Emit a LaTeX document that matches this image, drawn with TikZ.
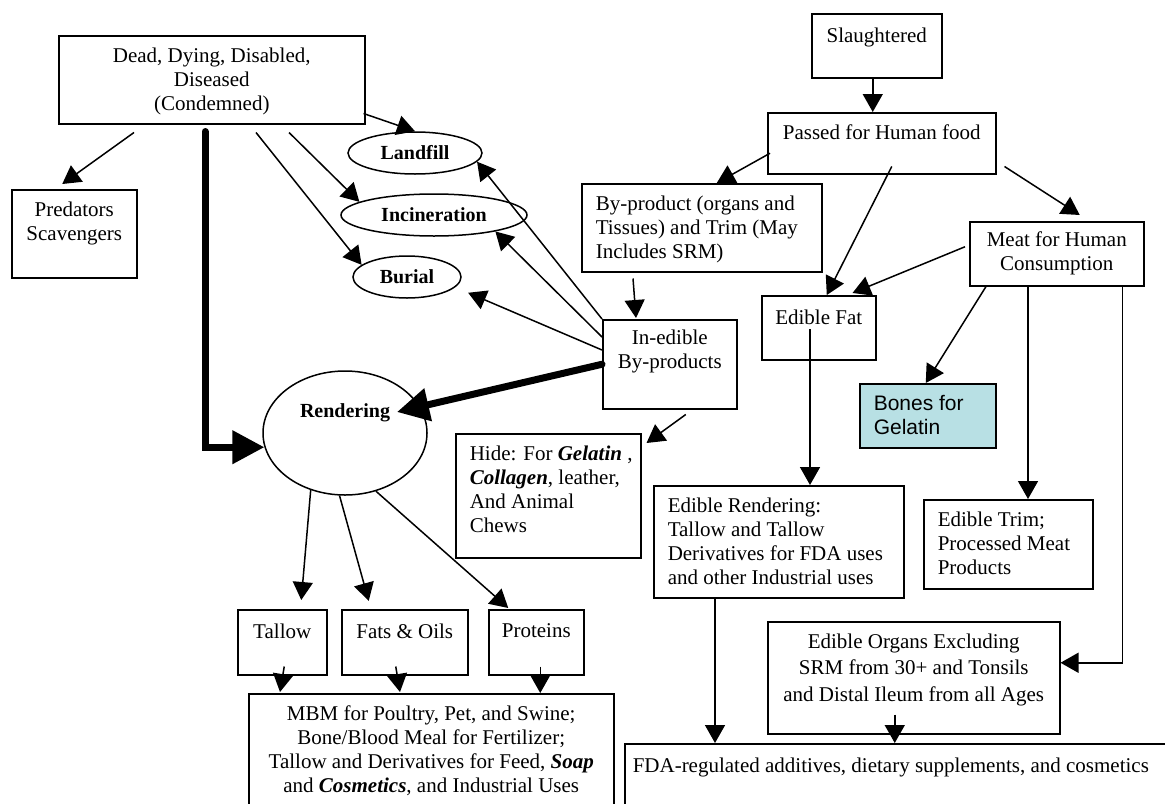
\documentclass[tikz,border=0pt]{standalone}
\usepackage{fontspec}
\setmainfont{Liberation Serif}
\newfontfamily\arial{Liberation Sans}
\usetikzlibrary{arrows.meta,shapes.geometric}
\newdimen\pxu \pxu=0.5pt
% box contents: width, height (px), alignment, text
\newcommand{\inbox}[4]{\parbox[c][#2\pxu][t]{#1\pxu}{\vspace*{6pt}#3#4\par}}
\newcommand{\lft}{\raggedright\leftskip=7pt\relax}
\newcommand{\bi}[1]{\textbf{\textit{#1}}}
\tikzset{
  box/.style={draw, line width=0.75pt, inner sep=0pt, anchor=north west},
  oval/.style={draw, ellipse, line width=0.75pt, inner sep=0pt, font=\bfseries},
  arr/.style={line width=0.75pt, -{Triangle[length=9pt,width=10pt]}},
  bigarr/.style={line width=3.5pt, line cap=round, -{Triangle[length=16pt,width=16pt]}},
}
\begin{document}
\begin{tikzpicture}[x=0.5pt, y=-0.5pt, font=\fontsize{10.5}{12}\selectfont]
\useasboundingbox (0,0) rectangle (1165,803);
% left: condemned animals
\node[box] (dead) at (58,35) {\inbox{306}{88}{\centering}{Dead, Dying, Disabled,\\ Diseased\\ (Condemned)}};
\node[box] (pred) at (11,189) {\inbox{125}{88}{\centering}{Predators\\ Scavengers}};
\node[oval, minimum width=67pt, minimum height=21pt] (landfill) at (415,153) {Landfill};
\node[oval, minimum width=93pt, minimum height=21pt] (incin) at (434,215) {Incineration};
\node[oval, minimum width=54pt, minimum height=21pt] (burial) at (407,277) {Burial};
\node[oval, minimum width=82pt, minimum height=62pt, text depth=22pt] (rend) at (345,433) {Rendering};
% right: slaughtered animals
\node[box] (slt) at (811,13) {\inbox{130}{64}{\centering\vspace{1pt}}{Slaughtered}};
\node[box] (pass) at (767,112) {\inbox{228}{61}{\centering}{Passed for Human food}};
\node[box] (byp) at (581,183) {\inbox{240}{88}{\lft}{By-product (organs and\\ Tissues) and Trim (May\\ Includes SRM)}};
\node[box] (meat) at (969,221) {\inbox{174}{64}{\centering\vspace{-1pt}}{Meat for Human\\ Consumption}};
\node[box] (fat) at (761,295) {\inbox{114}{64}{\centering\vspace{1pt}}{Edible Fat}};
\node[box] (inedible) at (602,319) {\inbox{134}{89}{\centering\vspace{-1pt}}{In-edible\\ By-products}};
\node[box, fill={rgb,255:red,184;green,224;blue,228}] (bones) at (859,383) {\inbox{136}{64}{\arial\lft}{Bones for\\ Gelatin}};
\node[box] (hide) at (455,433) {\inbox{185}{124}{\lft}{Hide: For \bi{Gelatin} ,\\ \bi{Collagen}, leather,\\ And Animal\\ Chews}};
\node[box] (erend) at (653,485) {\inbox{250}{112}{\lft}{Edible Rendering:\\ Tallow and Tallow\\ Derivatives for FDA uses\\ and other Industrial uses}};
\node[box] (etrim) at (923,499) {\inbox{169}{89}{\lft}{Edible Trim;\\ Processed Meat\\ Products}};
% products
\node[box] (tallow) at (237,609) {\inbox{89}{65}{\centering\vspace{1pt}}{Tallow}};
\node[box] (fats) at (341,609) {\inbox{126}{65}{\centering\vspace{1pt}}{Fats \& Oils}};
\node[box] (prot) at (488,609) {\inbox{95}{65}{\centering\vspace{1pt}}{Proteins}};
\node[box] (mbm) at (248,693) {\inbox{365}{140}{\centering}{MBM for Poultry, Pet, and Swine;\\ Bone/Blood Meal for Fertilizer;\\ Tallow and Derivatives for Feed, \bi{Soap}\\ and \bi{Cosmetics}, and Industrial Uses}};
\node[box] (eorg) at (767,621) {\inbox{292}{112}{\centering\fontsize{10.5}{13.3}\selectfont}{Edible Organs Excluding\\ SRM from 30+ and Tonsils\\ and Distal Ileum from all Ages}};
\node[box] (fda) at (624,743) {\inbox{570}{90}{\raggedright\leftskip=4pt\vspace{1pt}}{FDA-regulated additives, dietary supplements, and cosmetics}};

% connectors
\draw[arr] ([shift={(76,8)}]dead.south west) -- ([shift={(-12,-5)}]pred.north);
\draw[bigarr] ([shift={(147,7)}]dead.south west) |- (rend.190);
\draw[arr] ([shift={(-2,-11)}]dead.south east) -- (landfill.north);
\draw[arr] ([shift={(231,8)}]dead.south west) -- (incin.170);
\draw[arr] ([shift={(198,8)}]dead.south west) -- (burial.165);
\draw[arr] (inedible.north west) -- (landfill.-8);
\draw[arr] ([shift={(0,18)}]inedible.north west) -- (incin.-15);
\draw[arr, shorten >=7pt] ([shift={(0,31)}]inedible.north west) -- (burial.-12);
\draw[bigarr] (inedible.west) -- ([shift={(52,-21)}]rend.center);
\draw[arr] ([shift={(16,5)}]inedible.south) -- ([shift={(5,10)}]hide.north east);
\draw[arr] ([shift={(52,6)}]byp.south west) -- ([shift={(34,-1)}]inedible.north west);
\draw[arr] ([xshift=-2pt]slt.south) -- ([xshift=-2pt]slt.south |- pass.north);
\draw[arr] ([shift={(3,10)}]pass.west) -- ([shift={(15,0)}]byp.north);
\draw[arr] ([shift={(10,-8)}]pass.south) -- ([shift={(8,0)}]fat.north);
\draw[arr] ([shift={(8,-8)}]pass.south east) -- ([shift={(23,-6)}]meat.north);
\draw[arr] ([shift={(-4,-7)}]meat.west) -- ([shift={(-24,-2)}]fat.north east);
\draw[arr] ([shift={(17,0)}]meat.south west) -- ([shift={(-2,0)}]bones.north);
\draw[arr] ([xshift=29.5pt]meat.south west) -- ([xshift=29.5pt]meat.south west |- etrim.north);
\draw[arr] ([shift={(-22,0)}]meat.south east) |- ([shift={(0,-15)}]eorg.east);
\draw[arr] ([shift={(49,34)}]fat.north west) -- ([xshift=24.5pt]fat.north west |- erend.north);
\draw[arr] (rend.239) -- ([shift={(19,-9)}]tallow.north);
\draw[arr] (rend.265) -- ([shift={(-36,-8)}]fats.north);
\draw[arr] (rend.-62) -- ([shift={(-28,-1)}]prot.north);
\draw[arr] ([shift={(2,-9)}]tallow.south) -- ([shift={(32,-1)}]mbm.north west);
\draw[arr] ([shift={(-9,-9)}]fats.south) -- ([shift={(152,-1)}]mbm.north west);
\draw[arr] ([xshift=2pt,yshift=4.5pt]prot.south) -- ([xshift=2pt]prot.south |- mbm.north);
\draw[arr] ([xshift=31pt]erend.south west) -- ([xshift=31pt]erend.south west |- fda.north);
\draw[arr] ([xshift=-9.5pt,yshift=10pt]eorg.south) -- ([xshift=-9.5pt]eorg.south |- fda.north);
\end{tikzpicture}
\end{document}
